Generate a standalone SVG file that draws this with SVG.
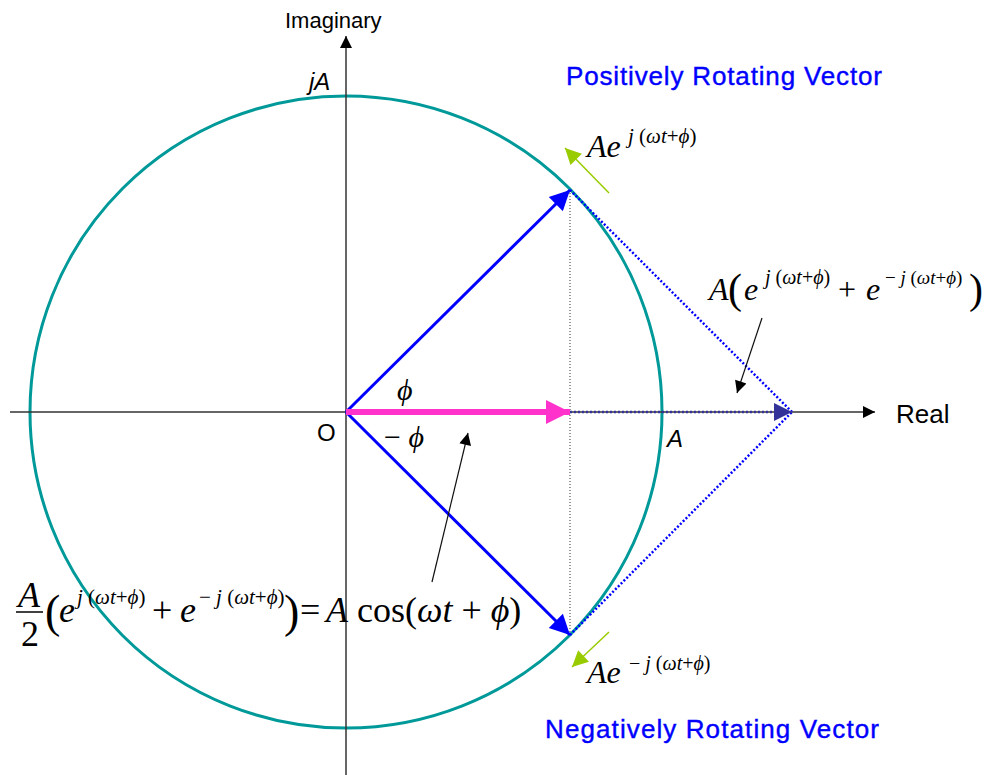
<svg xmlns="http://www.w3.org/2000/svg" width="985" height="775" viewBox="0 0 985 775">
<defs>
<style>
.ax{stroke:#333;stroke-width:1.5;fill:none}
.lbl{font-family:"Liberation Sans",Arial,sans-serif;font-size:22px;fill:#000}
.big{font-size:24px}
.blue{fill:#0000FF;font-size:26px;stroke:#0000FF;stroke-width:0.4}
.m{font-family:"Liberation Serif","Times New Roman",serif;fill:#000}
.i{font-style:italic}
.n{font-style:normal}
.vec{stroke:#0000FF;stroke-width:3;fill:none}
.dot{stroke:#0000FF;stroke-width:2.5;stroke-dasharray:2 2;fill:none}
.grn{stroke:#99CC00;stroke-width:1.5;fill:none}
.ann{stroke:#111;stroke-width:1.2;fill:none}
</style>
<marker id="hAx" viewBox="0 0 10 10" refX="10" refY="5" markerWidth="12" markerHeight="12" markerUnits="userSpaceOnUse" orient="auto"><path d="M0,0 L10,5 L0,10 z" fill="#000"/></marker>
<marker id="hBlue" viewBox="0 0 10 10" refX="10" refY="5" markerWidth="22" markerHeight="20" markerUnits="userSpaceOnUse" orient="auto"><path d="M0,0 L10,5 L0,10 z" fill="#0000FF"/></marker>
<marker id="hMag" viewBox="0 0 10 10" refX="10" refY="5" markerWidth="28" markerHeight="24" markerUnits="userSpaceOnUse" orient="auto"><path d="M0,0 L10,5 L0,10 z" fill="#FF33CC"/></marker>
<marker id="hDk" viewBox="0 0 10 10" refX="10" refY="5" markerWidth="22" markerHeight="18" markerUnits="userSpaceOnUse" orient="auto"><path d="M0,0 L10,5 L0,10 z" fill="#333399"/></marker>
<marker id="hGrn" viewBox="0 0 10 10" refX="10" refY="5" markerWidth="18" markerHeight="16" markerUnits="userSpaceOnUse" orient="auto"><path d="M0,0 L10,5 L0,10 z" fill="#99CC00"/></marker>
<marker id="hAnn" viewBox="0 0 10 10" refX="10" refY="5" markerWidth="16" markerHeight="12" markerUnits="userSpaceOnUse" orient="auto"><path d="M0,0 L10,5 L0,10 z" fill="#000"/></marker>
</defs>
<rect width="985" height="775" fill="#fff"/>

<g id="circle"><circle cx="346" cy="412" r="316" fill="none" stroke="#009999" stroke-width="3"/></g>

<g id="axes">
<line class="ax" x1="10" y1="412" x2="875" y2="412" marker-end="url(#hAx)"/>
<line class="ax" x1="346" y1="775" x2="346" y2="36" marker-end="url(#hAx)"/>
</g>

<g id="connectors">
<line x1="570" y1="190" x2="570" y2="635" stroke="#333" stroke-width="1" stroke-dasharray="1 2"/>
<line class="dot" x1="570" y1="190" x2="792" y2="412"/>
<line class="dot" x1="570" y1="635" x2="792" y2="412"/>
<line x1="570" y1="412" x2="792" y2="412" stroke="#333399" stroke-width="2.5" stroke-dasharray="2 2" marker-end="url(#hDk)"/>
<line class="vec" x1="346" y1="412" x2="570" y2="190" marker-end="url(#hBlue)"/>
<line class="vec" x1="346" y1="412" x2="570" y2="635" marker-end="url(#hBlue)"/>
<line x1="346" y1="412" x2="570" y2="412" stroke="#FF33CC" stroke-width="6" marker-end="url(#hMag)"/>
<line class="grn" x1="609" y1="193" x2="565" y2="148" marker-end="url(#hGrn)"/>
<line class="grn" x1="609" y1="632" x2="572" y2="667" marker-end="url(#hGrn)"/>
<line class="ann" x1="762" y1="318" x2="737" y2="393" marker-end="url(#hAnn)"/>
<line class="ann" x1="432" y1="582" x2="468" y2="433" marker-end="url(#hAnn)"/>
</g>

<g id="labels">
<text class="lbl" x="285" y="28">Imaginary</text>
<text class="lbl big i" x="309" y="90">jA</text>
<text class="lbl big" x="317" y="441">O</text>
<text class="lbl big i" x="667" y="447">A</text>
<text class="lbl" x="896" y="423" style="font-size:26px">Real</text>
<text class="lbl blue" x="566" y="85" textLength="316" lengthAdjust="spacing">Positively Rotating Vector</text>
<text class="lbl blue" x="545" y="738" textLength="334" lengthAdjust="spacing">Negatively Rotating Vector</text>
</g>

<g id="angles">
<text class="m i" x="397" y="400" font-size="30">ϕ</text>
<text class="m" x="384" y="447" font-size="30">− <tspan class="i">ϕ</tspan></text>
</g>

<g id="eq-pos">
<text class="m i" x="587" y="157" font-size="32">Ae</text>
<text class="m i" x="628" y="143" font-size="21">j <tspan class="n">(</tspan>ωt<tspan class="n">+</tspan>ϕ<tspan class="n">)</tspan></text>
</g>

<g id="eq-neg">
<text class="m i" x="587" y="683" font-size="32">Ae</text>
<text class="m i" x="629" y="670" font-size="20"><tspan class="n">−</tspan> j <tspan class="n">(</tspan>ωt<tspan class="n">+</tspan>ϕ<tspan class="n">)</tspan></text>
</g>

<g id="eq-sum">
<text class="m i" x="709" y="300" font-size="32">A</text>
<text class="m" x="728" y="303" font-size="42">(</text>
<text class="m i" x="744" y="300" font-size="32">e</text>
<text class="m i" x="765" y="284" font-size="20">j <tspan class="n">(</tspan>ωt<tspan class="n">+</tspan>ϕ<tspan class="n">)</tspan></text>
<text class="m" x="838" y="300" font-size="32">+</text>
<text class="m i" x="866" y="300" font-size="32">e</text>
<text class="m i" x="885" y="284" font-size="19"><tspan class="n">−</tspan> j <tspan class="n">(</tspan>ωt<tspan class="n">+</tspan>ϕ<tspan class="n">)</tspan></text>
<text class="m" x="969" y="303" font-size="42">)</text>
</g>

<g id="eq-cos">
<text class="m i" x="18" y="607" font-size="36">A</text>
<line x1="16" y1="612" x2="43" y2="612" stroke="#000" stroke-width="1.5"/>
<text class="m" x="21" y="646" font-size="36">2</text>
<text class="m" x="45" y="627" font-size="46">(</text>
<text class="m i" x="59" y="622" font-size="36">e</text>
<text class="m i" x="77" y="604" font-size="21">j <tspan class="n">(</tspan>ωt<tspan class="n">+</tspan>ϕ<tspan class="n">)</tspan></text>
<text class="m" x="152" y="622" font-size="36">+</text>
<text class="m i" x="180" y="622" font-size="36">e</text>
<text class="m i" x="199" y="604" font-size="21"><tspan class="n">−</tspan> j <tspan class="n">(</tspan>ωt<tspan class="n">+</tspan>ϕ<tspan class="n">)</tspan></text>
<text class="m" x="284" y="627" font-size="46">)</text>
<text class="m" x="300" y="622" font-size="36">=</text>
<text class="m" x="326" y="622" font-size="36"><tspan class="i">A</tspan> cos(<tspan class="i">ωt</tspan> + <tspan class="i">ϕ</tspan>)</text>
</g>
</svg>
